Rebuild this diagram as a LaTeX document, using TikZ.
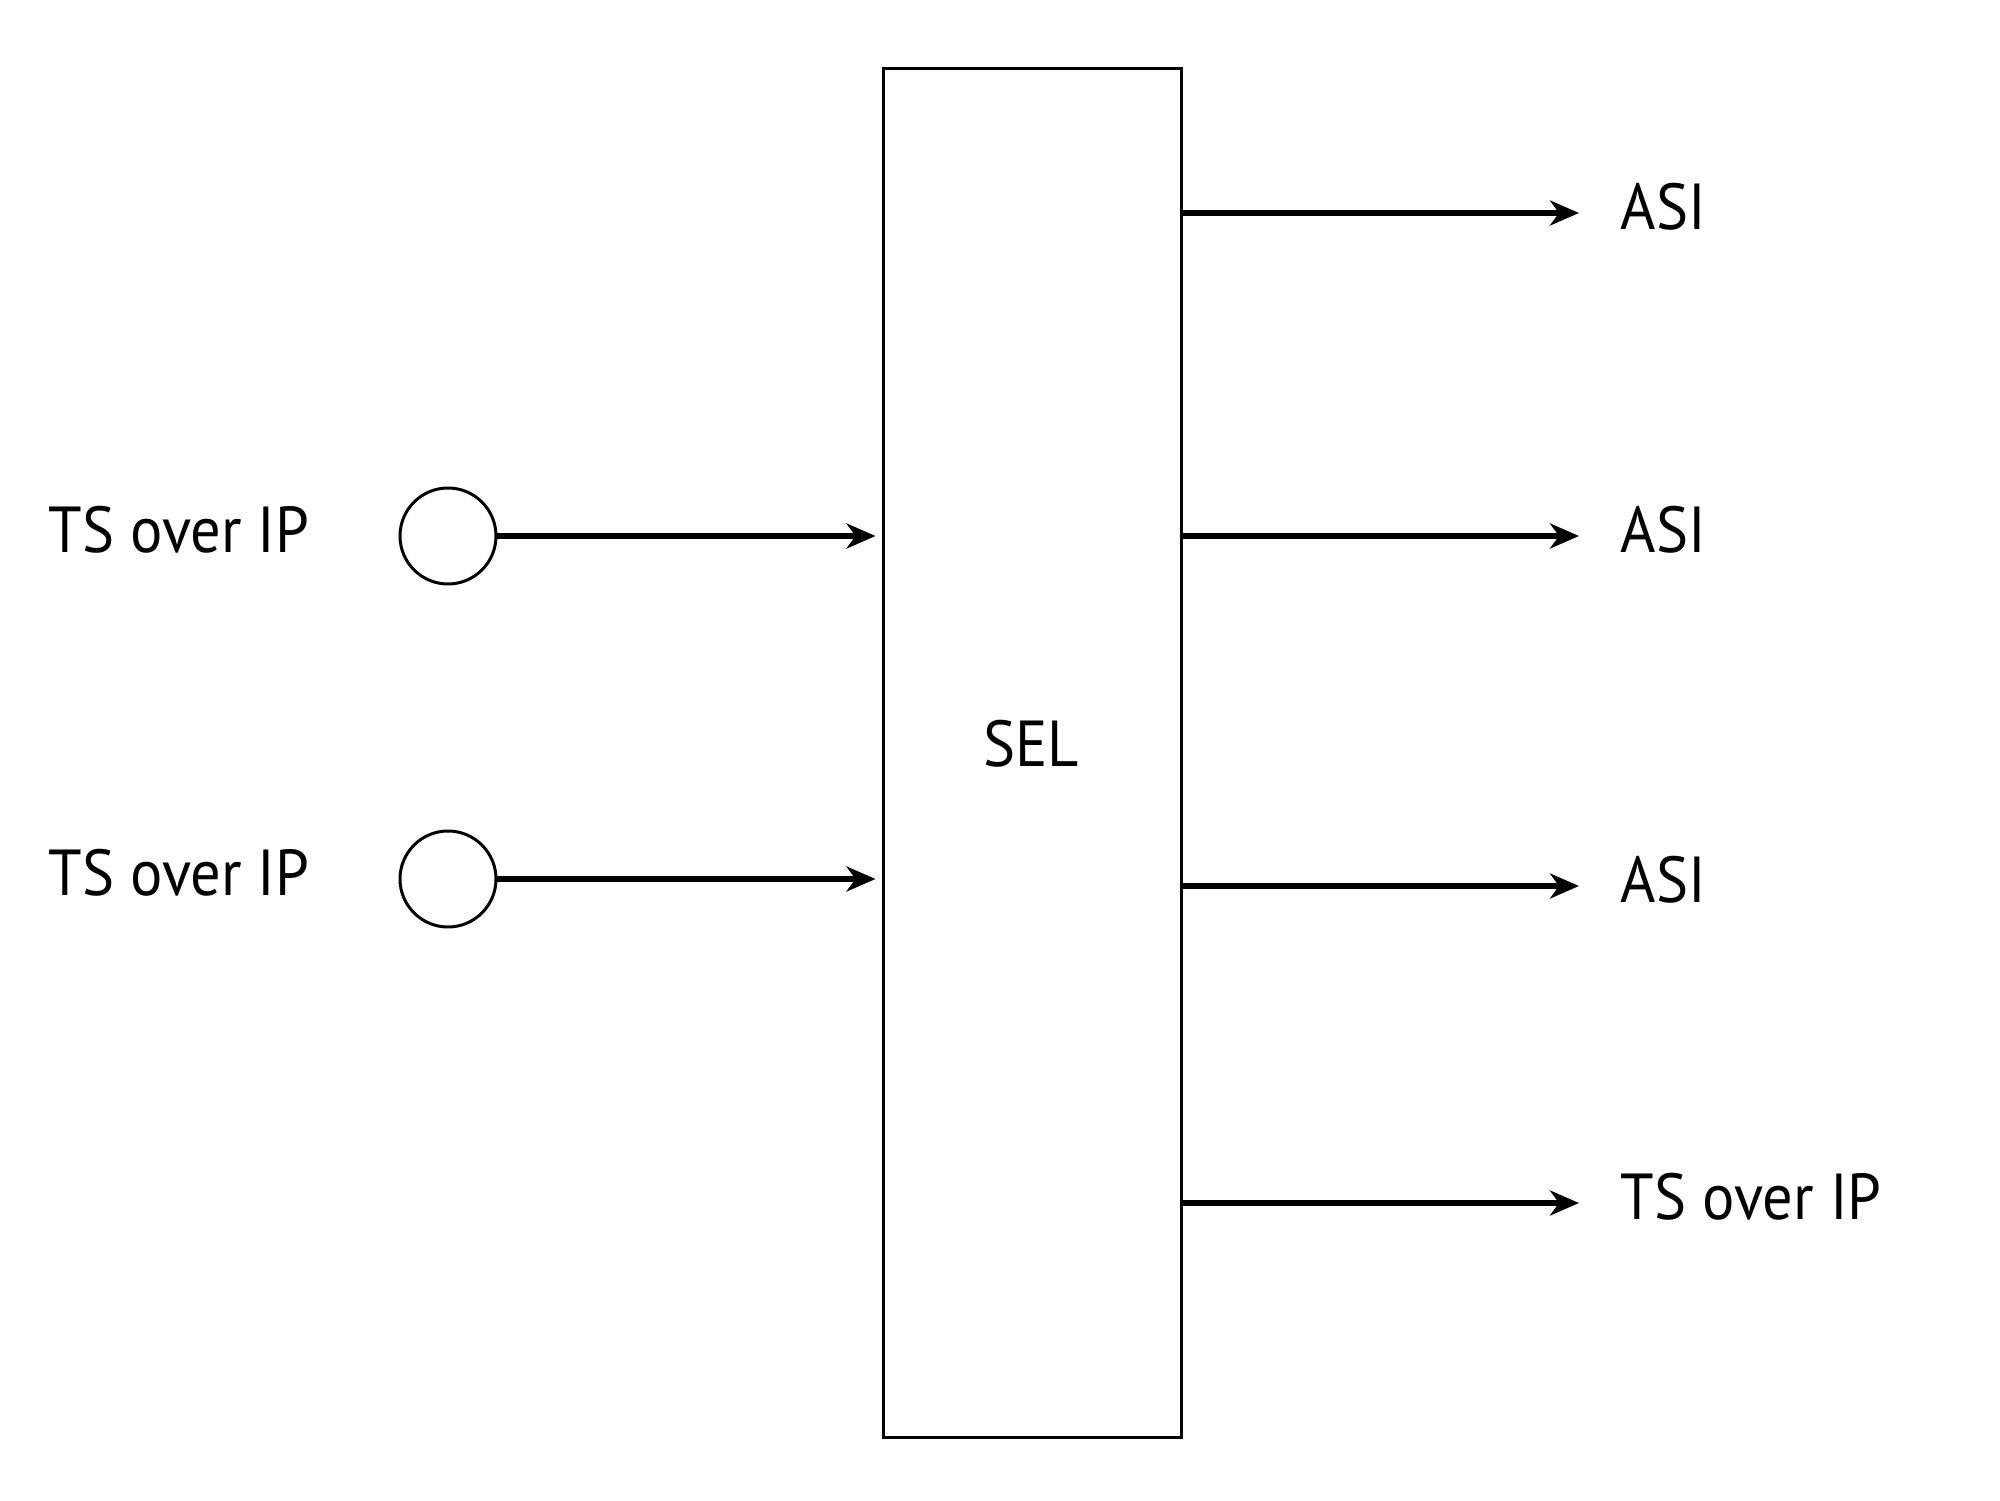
\documentclass[tikz,border=0pt]{standalone}
\usepackage{fontspec}
\setmainfont[FakeStretch=0.93]{PT Sans}
\usetikzlibrary{arrows.meta,positioning}

\tikzset{
    sig/.style = {line width=1.6pt, -{Stealth[length=2.9mm, width=2.5mm, inset=0.9mm]}, shorten >=0.06cm},
    port/.style = {circle, draw, line width=0.85pt, minimum size=0.96cm, inner sep=0pt},
    lab/.style = {font=\fontsize{18.5}{20}\selectfont, inner sep=0pt}
}

\begin{document}
\begin{tikzpicture}
        \useasboundingbox (0, 0) rectangle (20, 15);
        % selector block
        \node [draw, line width=0.85pt, minimum width=2.98cm, minimum height=13.68cm, inner sep=0pt] (sel) at (10.32, 7.47) {};
        \node [lab] (seltext) at (10.31, 7.56) {SEL};
        % inputs
        \node [port] (in1) at (4.48, 9.64) {};
        \node [port] (in2) at (4.48, 6.21) {};
        \node [lab, anchor=east] (inlab1) at (3.10, 9.70) {TS over IP};
        \node [lab, anchor=east] (inlab2) at (3.10, 6.27) {TS over IP};
        \draw [sig] (in1) -- (in1 -| sel.west);
        \draw [sig] (in2) -- (in2 -| sel.west);
        % outputs
        \node [lab, anchor=west] (out1) at (16.20, 12.93) {ASI};
        \node [lab, anchor=west] (out2) at (16.20, 9.70) {ASI};
        \node [lab, anchor=west] (out3) at (16.20, 6.20) {ASI};
        \node [lab, anchor=west] (out4) at (16.20, 3.03) {TS over IP};
        \coordinate (tip1) at (15.85, 12.87);
        \coordinate (tip2) at (15.85, 9.64);
        \coordinate (tip3) at (15.85, 6.14);
        \coordinate (tip4) at (15.85, 2.97);
        \draw [sig] (sel.east |- tip1) -- (tip1);
        \draw [sig] (sel.east |- tip2) -- (tip2);
        \draw [sig] (sel.east |- tip3) -- (tip3);
        \draw [sig] (sel.east |- tip4) -- (tip4);
    \end{tikzpicture}
\end{document}
